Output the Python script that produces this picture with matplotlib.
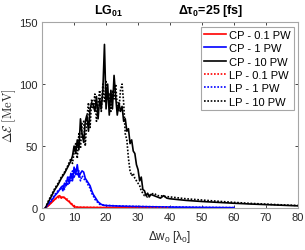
import matplotlib
matplotlib.use('Agg')
from matplotlib import pyplot as plt

plt.rcParams['font.family'] = ['Liberation Sans', 'DejaVu Sans']
plt.rcParams['mathtext.fontset'] = 'custom'
plt.rcParams['mathtext.rm'] = 'Liberation Sans'
plt.rcParams['mathtext.it'] = 'Liberation Sans:italic'
plt.rcParams['mathtext.bf'] = 'Liberation Sans:bold'

# CP - 10 PW
x_cp10 = [1, 2, 3, 4, 5, 6, 7, 8, 9, 9.5, 10, 10.5, 11, 11.5, 12, 12.5, 13, 13.5, 14, 14.5,
          15, 15.5, 16, 16.5, 17, 17.5, 18, 18.5, 19, 19.5, 20, 20.5, 21, 21.5, 22, 22.5,
          23, 23.5, 24, 24.5, 25, 25.5, 26, 26.5, 27, 27.5, 28, 28.5, 29, 29.5, 30, 30.5,
          31, 31.5, 32, 32.5, 33, 33.5, 34, 35, 36, 37, 38, 39, 40, 45, 50, 55, 60, 65,
          70, 75, 80]
y_cp10 = [0, 5, 10, 15, 19, 24, 28, 33, 38, 42, 50, 44, 55, 47, 72, 60, 53, 70, 75, 62,
          80, 85, 83, 78, 90, 72, 88, 80, 95, 132, 80, 100, 75, 95, 80, 107,
          90, 75, 85, 78, 82, 70, 72, 62, 64, 52, 55, 46, 44, 35, 31, 22,
          25, 15, 14, 10, 12, 9, 11, 10, 9, 8, 10, 8, 7.5, 6.2, 5.3, 4.6, 3.9, 3.3,
          2.8, 2.3, 1.8]

# LP - 10 PW
x_lp10 = [1, 2, 3, 4, 5, 6, 7, 8, 9, 9.5, 10, 10.5, 11, 11.5, 12, 12.5, 13, 13.5, 14, 14.5,
          15, 15.5, 16, 16.5, 17, 17.5, 18, 18.5, 19, 19.5, 20, 20.5, 21, 21.5, 22, 22.5,
          23, 23.5, 24, 24.5, 25, 25.5, 26, 26.5, 27, 27.5, 28, 28.5, 29, 29.5, 30, 30.5,
          31, 31.5, 32, 33, 34, 35, 36, 37, 38, 40, 45, 50, 55, 60, 65, 70, 75, 80]
y_lp10 = [0, 6, 11, 16, 20, 25, 29, 34, 40, 36, 45, 52, 40, 60, 48, 68, 70, 50, 72, 85,
          65, 88, 80, 92, 70, 85, 95, 78, 100, 85, 102, 88, 92, 78, 95, 88,
          100, 82, 78, 95, 100, 85, 60, 55, 40, 30, 26, 28, 24, 22, 20, 18,
          14, 12, 10, 9, 11, 12, 10, 10, 9.5, 9, 7.5, 6.5, 5.5, 4.6, 3.8, 3.2, 2.6, 2.1]

# CP - 1 PW
x_cp1 = [1, 2, 3, 4, 5, 6, 6.5, 7, 7.5, 8, 8.5, 9, 9.5, 10, 10.5, 11, 11.5, 12, 12.5, 13,
         13.5, 14, 14.5, 15, 15.5, 16, 16.5, 17, 17.5, 18, 18.5, 19, 20, 22, 25, 30, 40,
         50, 60]
y_cp1 = [0, 3, 6, 10, 13, 17, 14, 20, 18, 25, 20, 28, 22, 33, 27, 35, 25, 28, 30, 29,
         24, 22, 20, 18, 14, 11, 9, 7, 5, 4, 3, 2.5, 2, 1.8, 1.5, 1.2, 0.8,
         0.5, 0.3]

# LP - 1 PW
x_lp1 = [1, 2, 3, 4, 5, 6, 6.5, 7, 7.5, 8, 8.5, 9, 9.5, 10, 10.5, 11, 11.5, 12, 12.5, 13,
         13.5, 14, 14.5, 15, 15.5, 16, 16.5, 17, 17.5, 18, 19, 20, 25, 30, 40, 50, 60]
y_lp1 = [0, 3.5, 7, 11, 14, 16, 19, 15, 22, 18, 26, 22, 30, 24, 32, 26, 30, 22, 26, 24,
         22, 21, 18, 16, 12, 10, 7, 6, 4, 3, 2.5, 2.2, 1.6, 1.3, 0.9, 0.6, 0.4]

# CP - 0.1 PW
x_cp01 = [1, 2, 3, 4, 5, 5.5, 6, 6.5, 7, 7.5, 8, 8.5, 9, 9.5, 10, 11, 12, 15, 20, 30, 40]
y_cp01 = [0, 2, 4.5, 7, 9.5, 10, 8, 9, 8.5, 7, 6, 5, 3.5, 2.5, 1, 0.7, 0.6, 0.5, 0.4, 0.3, 0.2]

# LP - 0.1 PW
x_lp01 = [1, 2, 3, 4, 5, 5.5, 6, 6.5, 7, 7.5, 8, 8.5, 9, 9.5, 10, 10.5, 11, 12, 15, 20, 30, 40]
y_lp01 = [0, 2.2, 5, 7.5, 8, 9, 8.5, 9.5, 8, 7.5, 7, 5.5, 4, 3, 2, 1, 0.7, 0.6, 0.5, 0.4, 0.3, 0.2]

fig = plt.figure(figsize=(3.05, 2.51), dpi=100)
ax = fig.add_axes([0.138, 0.167, 0.839, 0.741])

dot = (0, (1, 1))
ax.plot(x_cp01, y_cp01, color='red', lw=1.2, label='CP - 0.1 PW')
ax.plot(x_cp1, y_cp1, color='blue', lw=1.2, label='CP - 1 PW')
ax.plot(x_cp10, y_cp10, color='black', lw=1.2, label='CP - 10 PW')
ax.plot(x_lp01, y_lp01, color='red', lw=1.2, ls=dot, label='LP - 0.1 PW')
ax.plot(x_lp1, y_lp1, color='blue', lw=1.2, ls=dot, label='LP - 1 PW')
ax.plot(x_lp10, y_lp10, color='black', lw=1.2, ls=dot, label='LP - 10 PW')

ax.set_xlim(0, 80)
ax.set_ylim(0, 150)
ax.set_xticks(range(0, 81, 10))
ax.set_yticks([0, 50, 100, 150])
ax.tick_params(direction='in', length=2.5, width=0.6, top=True, right=True,
               labelsize=8, colors='#262626', pad=3)
for s in ax.spines.values():
	s.set_color('#a6a6a6')
	s.set_linewidth(0.8)

ax.set_xlabel('Δw$_0$ [λ$_0$]', fontsize=8.5, color='#262626', labelpad=4)
ax.set_ylabel(r'$\Delta\mathcal{E}\ [\mathrm{MeV}]$', fontsize=9, color='#262626',
              math_fontfamily='cm', labelpad=1)

fig.text(0.355, 0.955, r'LG$_\mathbf{01}$', fontsize=9, fontweight='bold', ha='center', va='center')
fig.text(0.69, 0.955, r'Δτ$_\mathbf{0}$=25 [fs]', fontsize=9, fontweight='bold', ha='center', va='center')

leg = ax.legend(loc='upper right', fontsize=8, handlelength=2.0, handletextpad=0.2,
                labelspacing=0.3, borderpad=0.3, borderaxespad=0.4, fancybox=False,
                framealpha=1)
leg.get_frame().set_edgecolor('#a6a6a6')
leg.get_frame().set_linewidth(0.8)

plt.savefig('out.png', dpi=100)
